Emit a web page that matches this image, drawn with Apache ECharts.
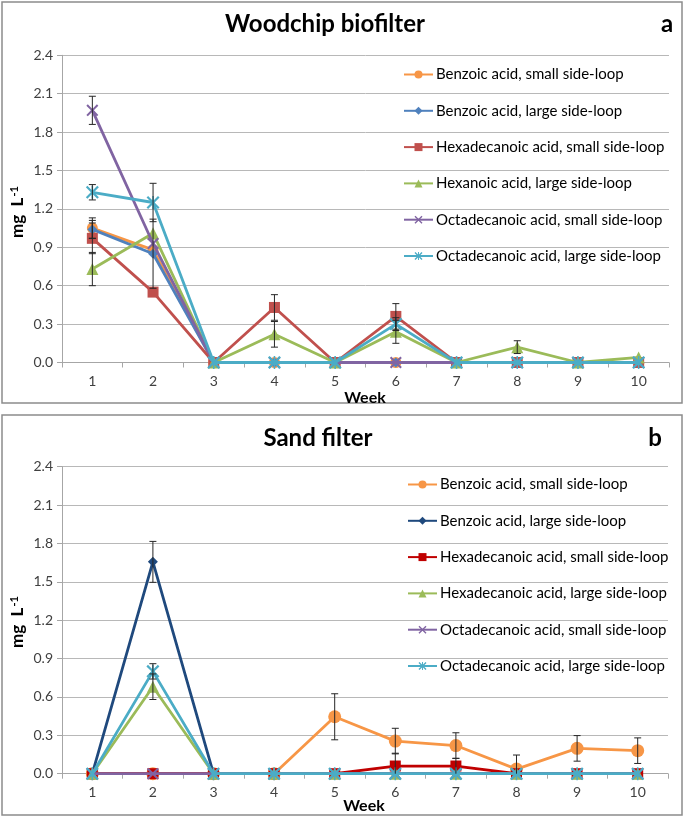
<!DOCTYPE html>
<html>
<head>
<meta charset="utf-8">
<script src="https://cdn.jsdelivr.net/npm/echarts@6/dist/echarts.min.js"></script>
<style>
html,body{margin:0;padding:0;background:#fff;}
#a{position:absolute;left:0;top:0;width:685px;height:410px;}
#b{position:absolute;left:0;top:410px;width:685px;height:407px;}
</style>
</head>
<body>
<div id="a"></div>
<div id="b"></div>
<script>
// ---------- shared ----------
const weeks = ['1','2','3','4','5','6','7','8','9','10'];
const yTicks = [0, 0.3, 0.6, 0.9, 1.2, 1.5, 1.8, 2.1, 2.4];

// ---------- panel a: Woodchip biofilter ----------
const namesA = ['Benzoic acid, small side-loop','Benzoic acid, large side-loop','Hexadecanoic acid, small side-loop','Hexanoic acid, large side-loop','Octadecanoic acid, small side-loop','Octadecanoic acid, large side-loop'];
const benzoicSmallA = [1.05, 0.88, 0, 0, 0, 0, 0, 0, 0, 0];
const benzoicLargeA = [1.04, 0.85, 0, 0, 0, 0, 0, 0, 0, 0];
const hexadecSmallA = [0.97, 0.55, 0, 0.43, 0, 0.36, 0, 0, 0, 0];
const hexanoicLargeA = [0.73, 1.01, 0, 0.22, 0, 0.24, 0, 0.12, 0, 0.04];
const octadecSmallA = [1.97, 0.93, 0, 0, 0, 0, 0, 0, 0, 0];
const octadecLargeA = [1.33, 1.25, 0, 0, 0, 0.30, 0, 0, 0, 0];
const benzoicSmallAErr = [0.08, 0, 0, 0, 0, 0, 0, 0, 0, 0];
const benzoicLargeAErr = [0.07, 0.27, 0, 0, 0, 0, 0, 0, 0, 0];
const hexadecSmallAErr = [0.12, 0, 0, 0.10, 0, 0.10, 0, 0, 0, 0];
const hexanoicLargeAErr = [0.13, 0, 0, 0.10, 0, 0.09, 0, 0.05, 0, 0];
const octadecSmallAErr = [0.11, 0, 0, 0, 0, 0, 0, 0, 0, 0];
const octadecLargeAErr = [0.06, 0.15, 0, 0, 0, 0.05, 0, 0, 0, 0];

// ---------- panel b: Sand filter ----------
const namesB = ['Benzoic acid, small side-loop','Benzoic acid, large side-loop','Hexadecanoic acid, small side-loop','Hexadecanoic acid, large side-loop','Octadecanoic acid, small side-loop','Octadecanoic acid, large side-loop'];
const benzoicSmallB = [0, 0, 0, 0, 0.445, 0.255, 0.22, 0.036, 0.198, 0.18];
const benzoicLargeB = [0, 1.656, 0, 0, 0, 0, 0, 0, 0, 0];
const hexadecSmallB = [0, 0, 0, 0, 0, 0.06, 0.06, 0, 0, 0];
const hexadecLargeB = [0, 0.68, 0, 0, 0, 0, 0, 0, 0, 0];
const octadecSmallB = [0, 0, 0, 0, 0, 0, 0, 0, 0, 0];
const octadecLargeB = [0, 0.80, 0, 0, 0, 0, 0, 0, 0, 0];
const benzoicSmallBErr = [0, 0, 0, 0, 0.18, 0.10, 0.10, 0.11, 0.10, 0.10];
const benzoicLargeBErr = [0, 0.16, 0, 0, 0, 0, 0, 0, 0, 0];
const hexadecSmallBErr = [0, 0, 0, 0, 0, 0.10, 0.06, 0, 0, 0];
const hexadecLargeBErr = [0, 0.10, 0, 0, 0, 0, 0, 0, 0, 0];
const octadecSmallBErr = [0, 0, 0, 0, 0, 0, 0, 0, 0, 0];
const octadecLargeBErr = [0, 0.06, 0, 0, 0, 0, 0, 0, 0, 0];

const FONT = 'Lato';
const X_SYM = 'path://M0,1.2L1.2,0L5,3.8L8.8,0L10,1.2L6.2,5L10,8.8L8.8,10L5,6.2L1.2,10L0,8.8L3.8,5Z';
const AST_SYM = 'path://M0,1.2L1.2,0L5,3.8L8.8,0L10,1.2L6.2,5L10,8.8L8.8,10L5,6.2L1.2,10L0,8.8L3.8,5Z M4.4,0L5.6,0L5.6,10L4.4,10Z';
const symbols = ['circle','diamond','rect','triangle',X_SYM,AST_SYM];
const symSizes = [11,10,11,12,12,13];

function build(cfg){
  const series = [];
  cfg.values.forEach((vals, i) => {
    series.push({
      type:'line', name: cfg.names[i], data: vals,
      symbol: symbols[i], symbolSize: (cfg.symSizes||symSizes)[i],
      showAllSymbol: true,
      itemStyle:{color: cfg.colors[i]},
      lineStyle:{color: cfg.colors[i], width: 2.8},
      z: 3 + i, animation:false
    });
  });
  const ebData = [];
  cfg.values.forEach((vals, i) => {
    vals.forEach((v, j) => { const e = cfg.errs[i][j]; if (e > 0) ebData.push([j, v, e]); });
  });
  series.push({
    type:'custom', data: ebData, z: 20, silent:true, animation:false,
    encode:{x:0, y:1},
    renderItem: function(params, api){
      const x = api.value(0), v = api.value(1), e = api.value(2);
      const hi = api.coord([x, v + e]);
      const lo = api.coord([x, Math.max(0, v - e)]);
      const st = {stroke:'#262626', lineWidth:1};
      const c = 3.5;
      const ch = [
        {type:'line', shape:{x1:hi[0], y1:hi[1], x2:lo[0], y2:lo[1]}, style:st},
        {type:'line', shape:{x1:hi[0]-c, y1:hi[1], x2:hi[0]+c, y2:hi[1]}, style:st}
      ];
      if (v - e > 0) ch.push({type:'line', shape:{x1:lo[0]-c, y1:lo[1], x2:lo[0]+c, y2:lo[1]}, style:st});
      return {type:'group', children: ch};
    }
  });
  return {
    animation:false,
    textStyle:{fontFamily: FONT},
    grid:{left: cfg.grid.left, top: cfg.grid.top, width: cfg.grid.width, height: cfg.grid.height},
    xAxis:{
      type:'category', data: weeks, boundaryGap:true,
      axisLine:{lineStyle:{color:'#A6A6A6', width:1}},
      axisTick:{show:true, length:5, lineStyle:{color:'#A6A6A6'}},
      axisLabel:{fontSize:14, color:'#404040', fontFamily:FONT, margin:12},
      splitLine:{show:false}
    },
    yAxis:{
      type:'value', min: yTicks[0], max: yTicks[yTicks.length-1], interval: 0.3,
      axisLine:{show:true, lineStyle:{color:'#A6A6A6', width:1}},
      axisTick:{show:true, length:5, lineStyle:{color:'#A6A6A6'}},
      axisLabel:{fontSize:14, color:'#404040', fontFamily:FONT, margin:9, formatter: v => v.toFixed(1)},
      splitLine:{show:true, lineStyle:{color:'#B8B8B8', width:1}}
    },
    legend:{
      orient:'vertical', left: cfg.legend.left, top: cfg.legend.top,
      itemWidth:29, itemHeight:10, itemGap:21.3, padding:0,
      textStyle:{fontSize:15, color:'#000', fontFamily:FONT, padding:[0,0,0,-2]},
      data: cfg.names
    },
    graphic:[
      {type:'rect', shape:{x:cfg.border.x, y:cfg.border.y, width:cfg.border.w, height:cfg.border.h}, style:{fill:'none', stroke:'#8C8C8C', lineWidth:1.5}, silent:true},
      {type:'text', x: cfg.title.x, y: cfg.title.y, style:{text: cfg.title.text, font:'bold 24px ' + FONT, fill:'#000', textAlign:'center', textVerticalAlign:'middle'}},
      {type:'text', x: cfg.letter.x, y: cfg.letter.y, style:{text: cfg.letter.text, font:'bold 24px ' + FONT, fill:'#000', textAlign:'center', textVerticalAlign:'middle'}},
      {type:'text', x: cfg.yname.x, y: cfg.yname.y, rotation: Math.PI/2,
        style:{text:'{m|mg  L}{s|-1}', textAlign:'center', textVerticalAlign:'middle',
          rich:{m:{font:'bold 17px ' + FONT, fill:'#000'}, s:{font:'bold 11px ' + FONT, fill:'#000', verticalAlign:'top', padding:[0,0,7,1]}}}},
      {type:'text', x: cfg.week.x, y: cfg.week.y, style:{text:'Week', font:'bold 16px ' + FONT, fill:'#000', textAlign:'center', textVerticalAlign:'middle'}}
    ],
    series: series
  };
}

const chartA = echarts.init(document.getElementById('a'), null, {renderer:'canvas'});
chartA.setOption(build({
  names: namesA,
  values:[benzoicSmallA, benzoicLargeA, hexadecSmallA, hexanoicLargeA, octadecSmallA, octadecLargeA],
  errs:[benzoicSmallAErr, benzoicLargeAErr, hexadecSmallAErr, hexanoicLargeAErr, octadecSmallAErr, octadecLargeAErr],
  colors:['#F79646','#4F81BD','#C0504D','#9BBB59','#8064A2','#4BACC6'],
  grid:{left:62, top:55.3, width:607, height:307.2},
  legend:{left:403, top:67},
  border:{x:2, y:2, w:680, h:401},
  title:{text:'Woodchip biofilter', x:325, y:24},
  letter:{text:'a', x:667, y:24},
  yname:{x:18, y:212},
  week:{x:365, y:398}
}));

const chartB = echarts.init(document.getElementById('b'), null, {renderer:'canvas'});
chartB.setOption(build({
  names: namesB,
  values:[benzoicSmallB, benzoicLargeB, hexadecSmallB, hexadecLargeB, octadecSmallB, octadecLargeB],
  errs:[benzoicSmallBErr, benzoicLargeBErr, hexadecSmallBErr, hexadecLargeBErr, octadecSmallBErr, octadecLargeBErr],
  colors:['#F79646','#1F497D','#C00000','#9BBB59','#8064A2','#4BACC6'],
  symSizes:[13,10,11,12,12,13],
  grid:{left:62, top:56.7, width:606, height:307},
  legend:{left:407, top:67},
  border:{x:2, y:5, w:680, h:400},
  title:{text:'Sand filter', x:318, y:28},
  letter:{text:'b', x:655, y:28},
  yname:{x:18, y:212},
  week:{x:364, y:396}
}));
</script>
</body>
</html>
